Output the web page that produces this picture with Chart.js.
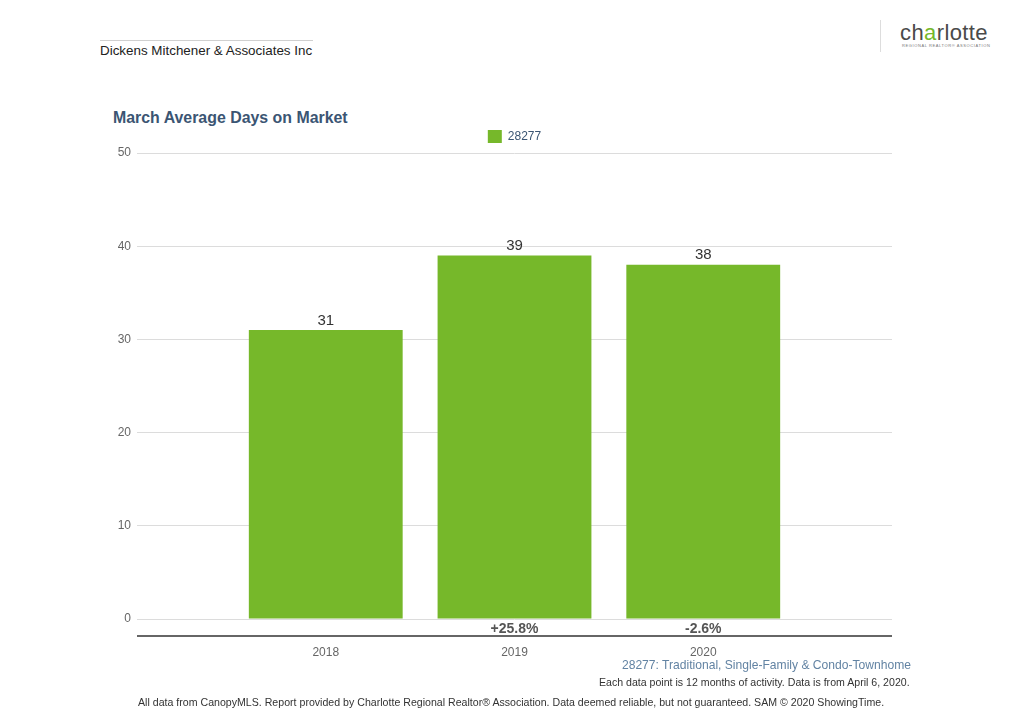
<!DOCTYPE html>
<html>
<head>
<meta charset="utf-8">
<script src="https://cdn.jsdelivr.net/npm/chart.js@4"></script>
<style>
  html, body { margin: 0; padding: 0; background: #fff; }
  body { width: 1024px; height: 716px; position: relative; overflow: hidden; font-family: "Liberation Sans", Arial, sans-serif; }
  #chart { position: absolute; left: 0; top: 0; }
  .abs { position: absolute; white-space: nowrap; }
  .hdr-line { left: 100px; top: 40px; width: 213px; height: 1px; background: #d0d0d0; }
  .company { left: 100px; top: 43px; font-size: 13.4px; color: #222; }
  .logo-bar { left: 880px; top: 20px; width: 1px; height: 32px; background: #ddd; }
  .logo { left: 900px; top: 20px; font-size: 22px; color: #4a4a4a; letter-spacing: 0.4px; }
  .logo-sub { left: 902px; top: 43px; font-size: 4px; color: #777; letter-spacing: 0.6px; }
  .title { left: 113px; top: 109px; font-size: 15.9px; font-weight: bold; color: #3b5573; }
  .note1 { right: 113px; top: 658px; font-size: 12.1px; color: #6283a3; }
  .note2 { right: 114px; top: 676px; font-size: 11px; color: #333; transform: scaleX(0.963); transform-origin: right; }
  .note3 { left: 138px; top: 696px; font-size: 11px; color: #333; transform: scaleX(0.964); transform-origin: left; }
</style>
</head>
<body>
<div class="abs hdr-line"></div>
<div class="abs company">Dickens Mitchener &amp; Associates Inc</div>
<div class="abs logo-bar"></div>
<div class="abs logo">ch<span style="color:#76b82a">a</span>rlotte</div>
<div class="abs logo-sub">REGIONAL REALTOR® ASSOCIATION</div>
<div class="abs title">March Average Days on Market</div>
<canvas id="chart" width="1024" height="716"></canvas>
<div class="abs note1">28277: Traditional, Single-Family &amp; Condo-Townhome</div>
<div class="abs note2">Each data point is 12 months of activity. Data is from April 6, 2020.</div>
<div class="abs note3">All data from CanopyMLS. Report provided by Charlotte Regional Realtor® Association. Data deemed reliable, but not guaranteed. SAM © 2020 ShowingTime.</div>
<script>
// empty slots at both ends give the half-gap seen on either side of the bars
const years = ['', '2018', '2019', '2020', ''];
const daysOnMarket = [null, 31, 39, 38, null];
const changeLabels = ['', '', '+25.8%', '-2.6%', ''];
const seriesName = '28277';
const yTicks = [0, 10, 20, 30, 40, 50];

const GREEN = '#76b82a';
const FONT = '"Liberation Sans", Arial, sans-serif';

// centre the legend over the plot area rather than the whole canvas
const legendCentre = {
  id: 'legendCentre',
  afterLayout(chart) {
    const lg = chart.legend, ca = chart.chartArea;
    if (!lg) return;
    const shift = (ca.left + ca.right) / 2 - (lg.left + lg.right) / 2;
    lg.left += shift;
    lg.right += shift;
  }
};

// value above each bar, % change under the zero line, dark base line
const barExtras = {
  id: 'barExtras',
  afterDatasetsDraw(chart) {
    const { ctx, chartArea } = chart;
    const meta = chart.getDatasetMeta(0);
    ctx.save();
    ctx.textAlign = 'center';
    meta.data.forEach((bar, i) => {
      const v = daysOnMarket[i];
      if (v == null) return;
      ctx.fillStyle = '#333';
      ctx.font = '15px ' + FONT;
      ctx.textBaseline = 'bottom';
      ctx.fillText(String(v), bar.x, bar.y - 2);
      if (changeLabels[i]) {
        ctx.fillStyle = '#555';
        ctx.font = 'bold 14px ' + FONT;
        ctx.textBaseline = 'middle';
        ctx.fillText(changeLabels[i], bar.x, chartArea.bottom + 10);
      }
    });
    ctx.strokeStyle = '#666';
    ctx.lineWidth = 2;
    ctx.beginPath();
    ctx.moveTo(chartArea.left, chartArea.bottom + 17);
    ctx.lineTo(chartArea.right, chartArea.bottom + 17);
    ctx.stroke();
    ctx.restore();
  }
};

new Chart(document.getElementById('chart'), {
  type: 'bar',
  data: {
    labels: years,
    datasets: [{
      label: seriesName,
      data: daysOnMarket,
      backgroundColor: GREEN,
      borderWidth: 0,
      categoryPercentage: 1,
      barPercentage: 0.815
    }]
  },
  options: {
    responsive: false,
    animation: false,
    devicePixelRatio: 1,
    layout: { padding: { left: 100, right: 132, top: 127, bottom: 47 } },
    plugins: {
      title: { display: false },
      tooltip: { enabled: false },
      legend: {
        position: 'top',
        labels: {
          boxWidth: 14, boxHeight: 13, padding: 3,
          color: '#3b5573',
          font: { family: FONT, size: 12, lineHeight: 1 }
        }
      }
    },
    scales: {
      x: {
        offset: false,
        grid: { display: false },
        border: { display: false },
        ticks: { color: '#666', padding: 18, font: { family: FONT, size: 12 } },
        afterFit: (s) => { s.height = 50; }
      },
      y: {
        min: 0, max: 50,
        afterBuildTicks: (s) => { s.ticks = yTicks.map(v => ({ value: v })); },
        grid: { color: '#dcdcdc', lineWidth: 1, drawTicks: false },
        border: { display: false },
        ticks: { color: '#666', padding: 6, font: { family: FONT, size: 12 } },
        afterFit: (s) => { s.width = 37; }
      }
    }
  },
  plugins: [legendCentre, barExtras]
});
</script>
</body>
</html>
